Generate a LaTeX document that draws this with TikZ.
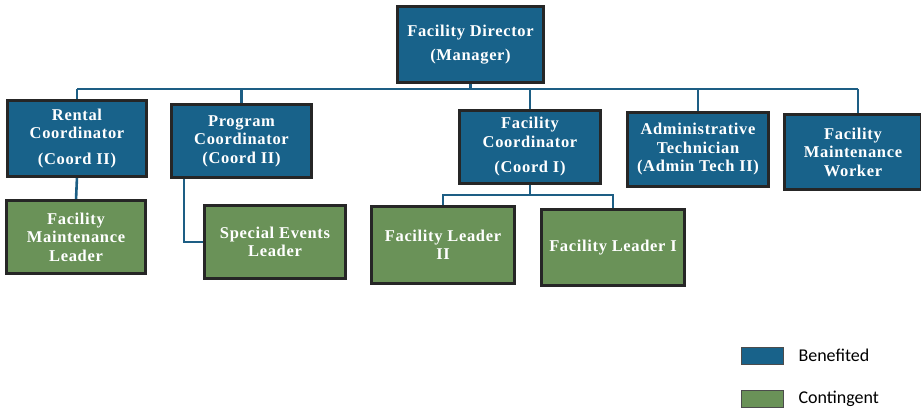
\documentclass[tikz,border=0pt]{standalone}
\usepackage{fontspec}
\setmainfont{Liberation Serif}
\newfontfamily\boxfont[LetterSpace=4]{Liberation Serif}
\newfontfamily\legendfont{Carlito}
\definecolor{benefited}{HTML}{18628A}
\definecolor{contingent}{HTML}{6A9258}
\definecolor{linkblue}{HTML}{1D5E84}
\begin{document}
\begin{tikzpicture}[x=1pt,y=-1pt,
  orgbox/.style={draw=black!85, line width=1.8pt, text=white, align=center,
    inner sep=0pt, font=\boxfont\bfseries\fontsize{16.5}{18.5}\selectfont},
  benbox/.style={orgbox, fill=benefited},
  conbox/.style={orgbox, fill=contingent},
  link/.style={draw=linkblue, line width=2.6pt},
  legendkey/.style={draw=black!70, line width=0.8pt, minimum width=42pt, minimum height=17pt, inner sep=0pt},
  legendtext/.style={anchor=west, font=\legendfont\fontsize{18}{20}\selectfont, text=black}]
\useasboundingbox (0,0) rectangle (921,411);

% rows of the bus lines
\coordinate (busy) at (0,89);
\coordinate (fcbus) at (530,195);

% top level
\node[benbox, minimum width=145pt, minimum height=75pt] (dir) at (470.5,44.5)
  {Facility Director\\[6pt](Manager)};

% second level
\node[benbox, minimum width=138pt, minimum height=75pt] (rental) at (77,138.5)
  {Rental\\Coordinator\\[7pt](Coord II)};
\node[benbox, minimum width=139pt, minimum height=72pt] (prog) at (241.5,141)
  {Program\\Coordinator\\(Coord II)};
\node[benbox, minimum width=140pt, minimum height=72pt] (fc) at (530,147)
  {Facility\\Coordinator\\[7pt](Coord I)};
\node[benbox, minimum width=140pt, minimum height=73pt] (admin) at (698,149.5)
  {Administrative\\Technician\\(Admin Tech II)};
\node[benbox, minimum width=136pt, minimum height=74pt] (worker) at (853,152)
  {Facility\\Maintenance\\Worker};

% third level
\node[conbox, minimum width=138pt, minimum height=72pt] (fml) at (76,237)
  {Facility\\Maintenance\\Leader};
\node[conbox, minimum width=140pt, minimum height=72pt] (sel) at (275,242)
  {Special Events\\Leader};
\node[conbox, minimum width=142pt, minimum height=76pt] (fl2) at (443,245)
  {Facility Leader\\II};
\node[conbox, minimum width=142pt, minimum height=75pt] (fl1) at (613,247.5)
  {Facility Leader I};

% connectors
\path[link] (dir.south) -- (dir.south |- busy);
\path[link] (rental.north |- busy) -- ([xshift=5pt]worker.north |- busy);
\path[link] (rental.north |- busy) -- (rental.north);
\path[link] (prog.north |- busy) -- (prog.north);
\path[link] (fc.north |- busy) -- (fc.north);
\path[link] (admin.north |- busy) -- (admin.north);
\path[link] ([xshift=5pt]worker.north |- busy) -- ([xshift=5pt]worker.north);
\path[link] (rental.south) -- (fml.north);
\path[link] ([xshift=13pt]prog.south west) |- (sel.west);
\path[link] (fc.south) -- (fcbus);
\path[link] (fl2.north) |- (fcbus) -| (fl1.north);

% box outlines drawn again over the line ends
\foreach \n in {dir,rental,prog,fc,admin,worker,fml,sel,fl2,fl1}
  \draw[black!85, line width=1.8pt] (\n.south west) rectangle (\n.north east);

% legend
\node[legendkey, fill=benefited] (kb) at (762,355.5) {};
\node[legendtext] (tb) at (795,355.5) {Benefited};
\node[legendkey, fill=contingent] (kc) at (762,399) {};
\node[legendtext] (tc) at (795,399) {Contingent};
\end{tikzpicture}
\end{document}
